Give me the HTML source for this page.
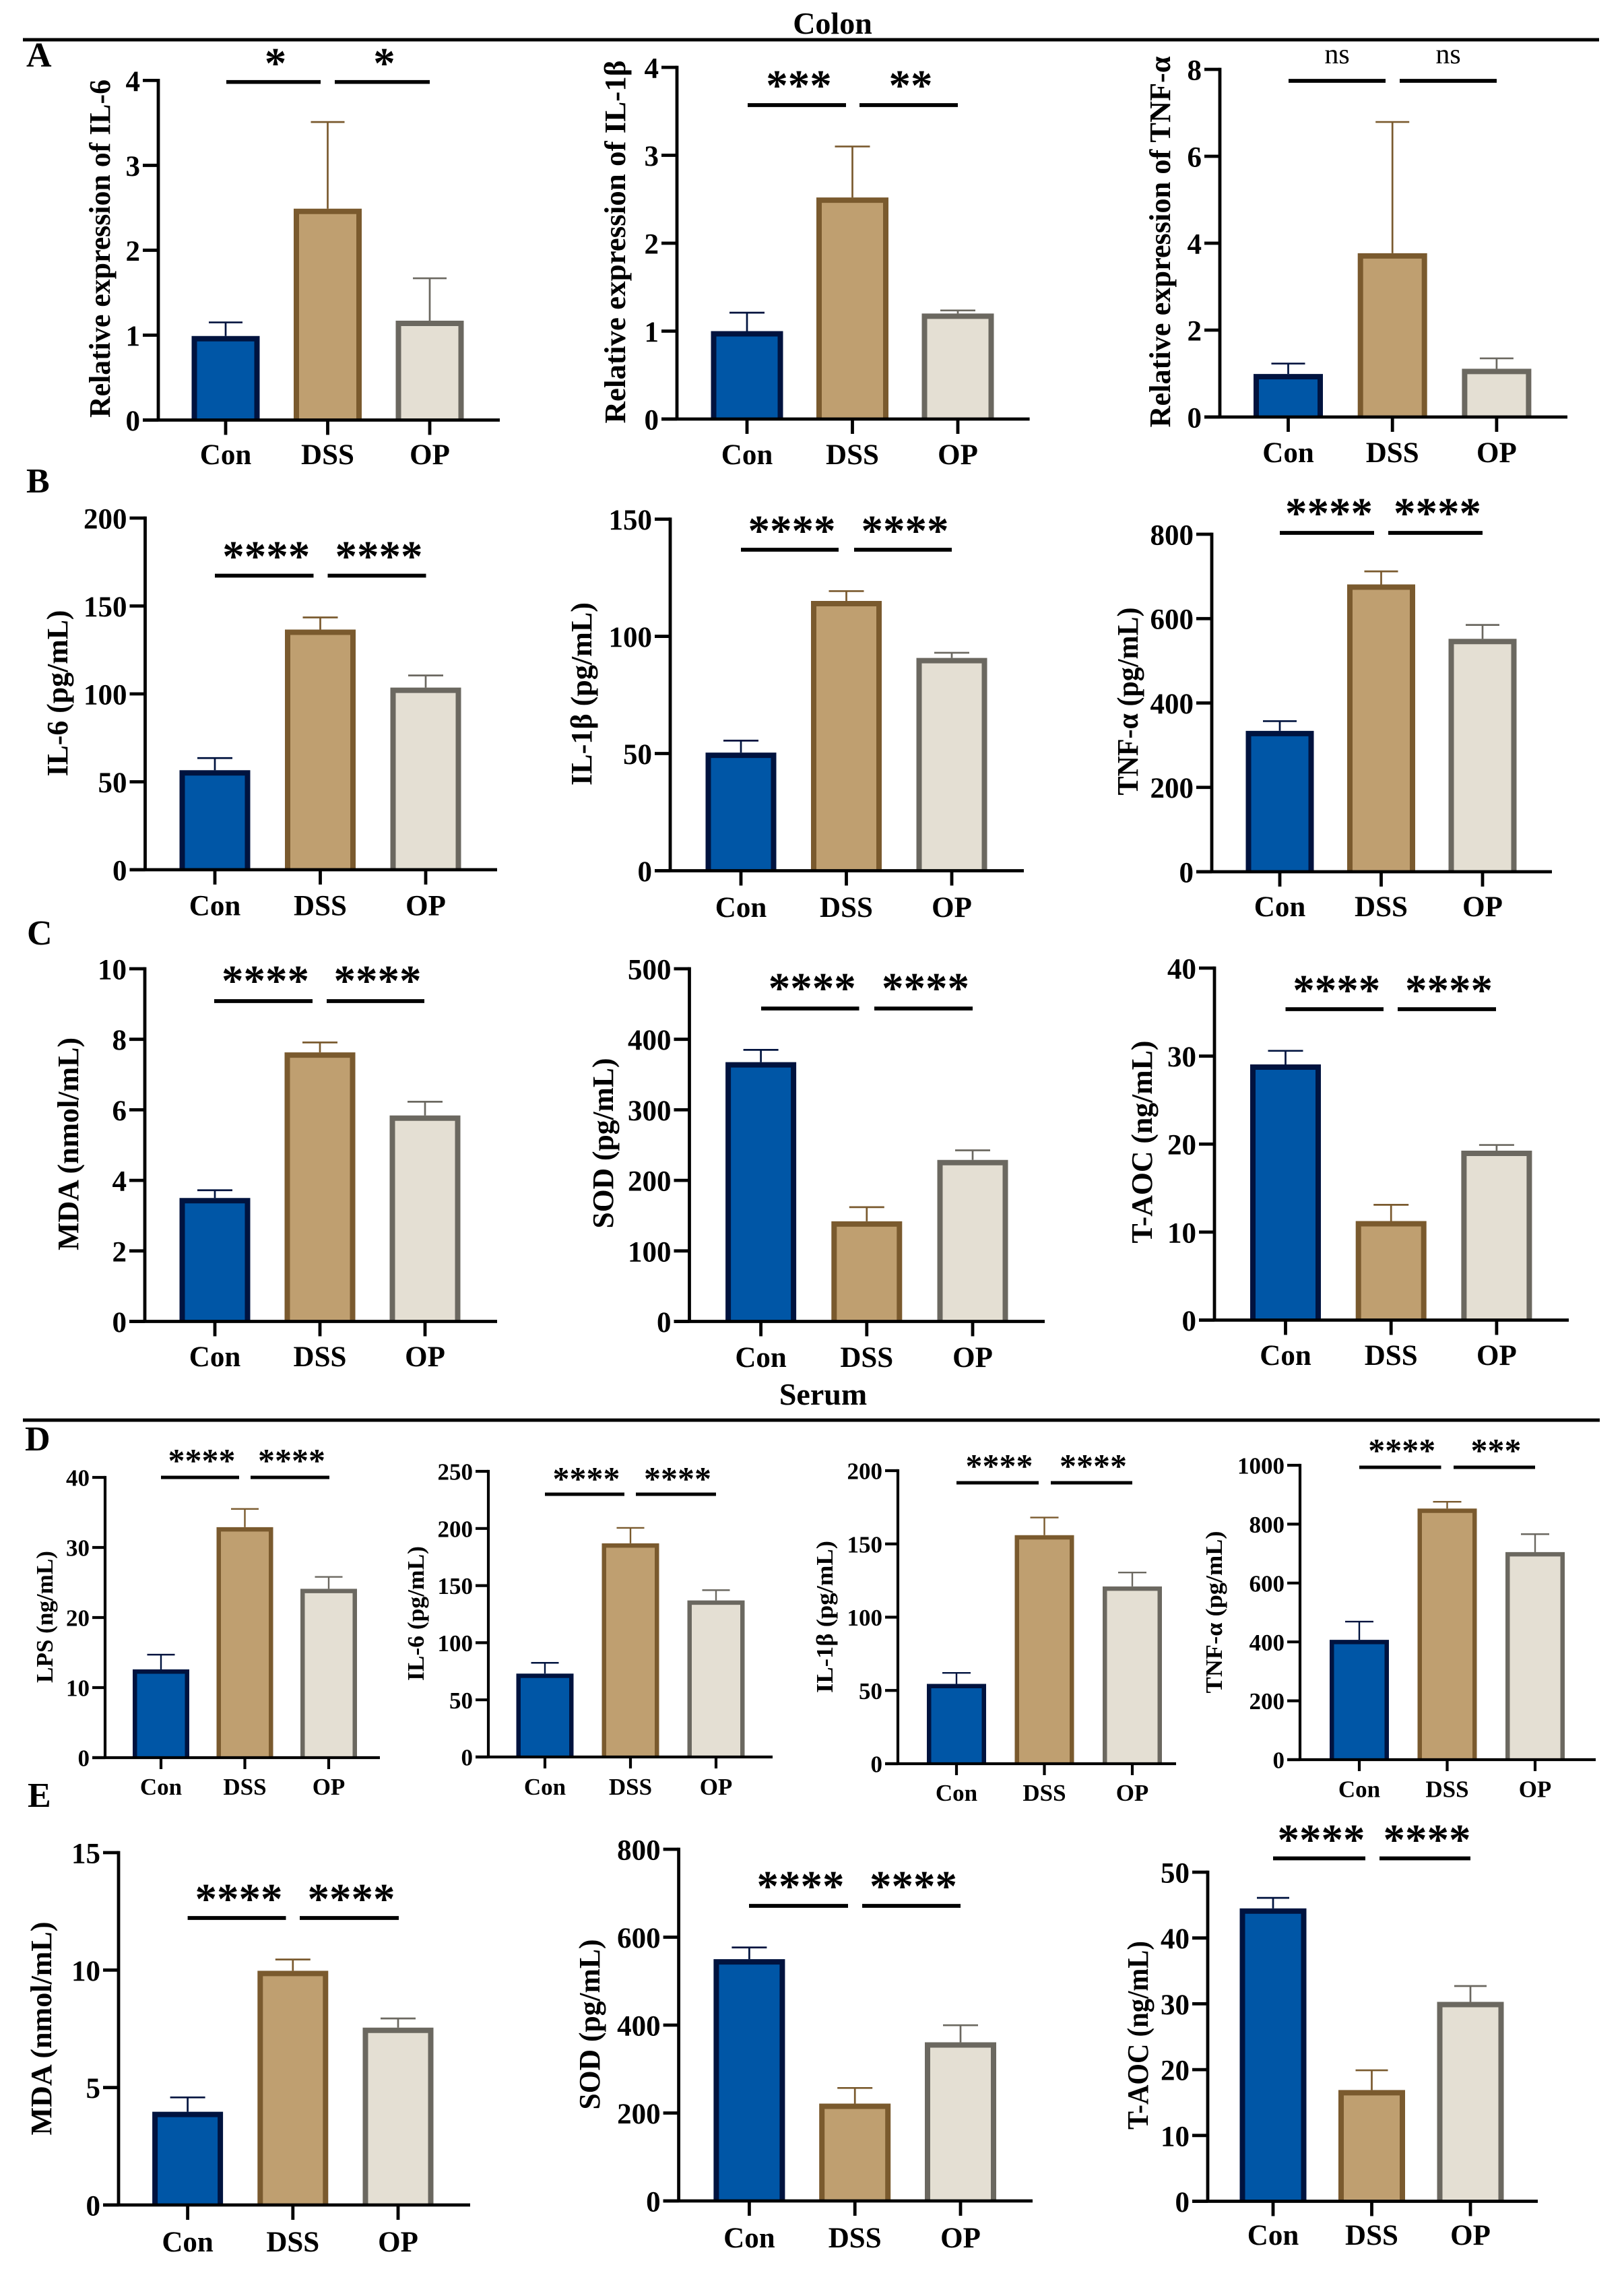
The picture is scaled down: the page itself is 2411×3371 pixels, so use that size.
<!DOCTYPE html>
<html lang="en">
<head>
<meta charset="utf-8">
<title>Colon and serum cytokine bar charts</title>
<style>
html,body{margin:0;padding:0;background:#fff}
svg{display:block}
text{font-family:"Liberation Serif","DejaVu Serif",serif;font-weight:700;fill:#000}
</style>
</head>
<body>
<svg id="figure" xmlns="http://www.w3.org/2000/svg" width="2411" height="3371" viewBox="0 0 2411 3371">
  <rect width="2411" height="3371" fill="#fff"/>
  <line x1="34" x2="2374" y1="59" y2="59" stroke="#000" stroke-width="5"/>
  <line x1="34" x2="2375" y1="2108" y2="2108" stroke="#000" stroke-width="5"/>
  <text x="1236" y="50" font-size="46" text-anchor="middle">Colon</text>
  <text x="1222" y="2085" font-size="46" text-anchor="middle">Serum</text>
  <text x="39" y="99" font-size="52">A</text>
  <text x="39" y="731" font-size="52">B</text>
  <text x="40" y="1402" font-size="52">C</text>
  <text x="37" y="2153" font-size="52">D</text>
  <text x="41" y="2682" font-size="52">E</text>
</svg>
<script>
const categories = ['Con', 'DSS', 'OP'];

const aIl6Means = [0.99, 2.49, 1.17];
const aIl6Errors = [0.16, 1.02, 0.5];
const aIl6Ticks = [0, 1, 2, 3, 4];
const aIl6Sig = ['*', '*'];

const aIl1bMeans = [1, 2.52, 1.2];
const aIl1bErrors = [0.21, 0.58, 0.035];
const aIl1bTicks = [0, 1, 2, 3, 4];
const aIl1bSig = ['***', '**'];

const aTnfMeans = [0.99, 3.77, 1.11];
const aTnfErrors = [0.24, 3.02, 0.24];
const aTnfTicks = [0, 2, 4, 6, 8];
const aTnfSig = ['ns', 'ns'];

const bIl6Means = [56.6, 136.6, 103.6];
const bIl6Errors = [6.9, 6.9, 6.9];
const bIl6Ticks = [0, 50, 100, 150, 200];
const bIl6Sig = ['****', '****'];

const bIl1bMeans = [50.4, 115.1, 90.8];
const bIl1bErrors = [5.1, 4.2, 2.2];
const bIl1bTicks = [0, 50, 100, 150];
const bIl1bSig = ['****', '****'];

const bTnfMeans = [334, 681, 552];
const bTnfErrors = [23, 31, 33];
const bTnfTicks = [0, 200, 400, 600, 800];
const bTnfSig = ['****', '****'];

const cMdaMeans = [3.5, 7.63, 5.84];
const cMdaErrors = [0.22, 0.28, 0.39];
const cMdaTicks = [0, 2, 4, 6, 8, 10];
const cMdaSig = ['****', '****'];

const cSodMeans = [367.6, 142, 229];
const cSodErrors = [17.4, 20, 13.6];
const cSodTicks = [0, 100, 200, 300, 400, 500];
const cSodSig = ['****', '****'];

const cAocMeans = [29.05, 11.25, 19.25];
const cAocErrors = [1.55, 1.85, 0.65];
const cAocTicks = [0, 10, 20, 30, 40];
const cAocSig = ['****', '****'];

const dLpsMeans = [12.6, 32.9, 24.1];
const dLpsErrors = [2.1, 2.6, 1.7];
const dLpsTicks = [0, 10, 20, 30, 40];
const dLpsSig = ['****', '****'];

const dIl6Means = [73, 187, 137];
const dIl6Errors = [9.4, 13.5, 9];
const dIl6Ticks = [0, 50, 100, 150, 200, 250];
const dIl6Sig = ['****', '****'];

const dIl1bMeans = [54.5, 156, 121];
const dIl1bErrors = [7.5, 12, 9.5];
const dIl1bTicks = [0, 50, 100, 150, 200];
const dIl1bSig = ['****', '****'];

const dTnfMeans = [407, 853, 705];
const dTnfErrors = [62, 23, 61];
const dTnfTicks = [0, 200, 400, 600, 800, 1000];
const dTnfSig = ['****', '***'];

const eMdaMeans = [3.97, 9.97, 7.55];
const eMdaErrors = [0.61, 0.48, 0.39];
const eMdaTicks = [0, 5, 10, 15];
const eMdaSig = ['****', '****'];

const eSodMeans = [550, 221.5, 361];
const eSodErrors = [26.6, 35.5, 38.7];
const eSodTicks = [0, 200, 400, 600, 800];
const eSodSig = ['****', '****'];

const eAocMeans = [44.5, 16.9, 30.3];
const eAocErrors = [1.6, 3, 2.4];
const eAocTicks = [0, 10, 20, 30, 40, 50];
const eAocSig = ['****', '****'];

const fills = ['#0056a6', '#bf9f70', '#e4dfd3'];
const strokes = ['#00133f', '#7a5a2e', '#6b6860'];

const panels = [
  {id:'colon-il6', means:aIl6Means, errors:aIl6Errors, ticks:aIl6Ticks, sig:aIl6Sig, title:'Relative expression of IL-6', axis:235, top:119.4, base:623.5, right:742, first:335, step:151.5, barW:101, capW:50, sigY:121.7, starY:85, labelY:689, tx:163, ty:369, tl:502, b1:[336,476], b2:[497,638]},
  {id:'colon-il1b', means:aIl1bMeans, errors:aIl1bErrors, ticks:aIl1bTicks, sig:aIl1bSig, title:'Relative expression of IL-1β', axis:1005, top:100, base:622, right:1528.6, first:1109, step:156.5, barW:107, capW:52, sigY:156, starY:118, labelY:689, tx:928, ty:359, tl:539, b1:[1110,1256], b2:[1276,1422]},
  {id:'colon-tnf', means:aTnfMeans, errors:aTnfErrors, ticks:aTnfTicks, sig:aTnfSig, title:'Relative expression of TNF-α', axis:1811, top:103, base:619, right:2327, first:1912.5, step:154.7, barW:103, capW:50, sigY:120, starY:85, labelY:686, tx:1737, ty:359, tl:551, b1:[1913,2057], b2:[2078,2222]},

  {id:'colon-b-il6', means:bIl6Means, errors:bIl6Errors, ticks:bIl6Ticks, sig:bIl6Sig, title:'IL-6 (pg/mL)', axis:215.5, top:769, base:1291, right:738, first:319, step:156.5, barW:105, capW:52, sigY:854.5, starY:817, labelY:1358.6, tx:100, ty:1029, tl:247, b1:[319,465.5], b2:[486.5,632.5]},
  {id:'colon-b-il1b', means:bIl1bMeans, errors:bIl1bErrors, ticks:bIl1bTicks, sig:bIl1bSig, title:'IL-1β (pg/mL)', axis:995, top:770.6, base:1292.5, right:1520, first:1100, step:156.5, barW:105, capW:52, sigY:816, starY:779, labelY:1361, tx:878, ty:1030, tl:272, b1:[1100,1245], b2:[1268,1413]},
  {id:'colon-b-tnf', means:bTnfMeans, errors:bTnfErrors, ticks:bTnfTicks, sig:bTnfSig, title:'TNF-α (pg/mL)', axis:1799, top:793, base:1294, right:2304, first:1900, step:150.5, barW:101, capW:50, sigY:791, starY:753, labelY:1360, tx:1689, ty:1041, tl:279, b1:[1900,2040], b2:[2061,2201]},

  {id:'colon-c-mda', means:cMdaMeans, errors:cMdaErrors, ticks:cMdaTicks, sig:cMdaSig, title:'MDA (nmol/mL)', axis:215, top:1438, base:1961.5, right:738, first:319, step:156, barW:105, capW:52, sigY:1486, starY:1447, labelY:2028, tx:116, ty:1698, tl:316, b1:[318,464], b2:[485,630]},
  {id:'colon-c-sod', means:cSodMeans, errors:cSodErrors, ticks:cSodTicks, sig:cSodSig, title:'SOD (pg/mL)', axis:1023.5, top:1438, base:1961.5, right:1551, first:1129.6, step:157.2, barW:105, capW:52, sigY:1497, starY:1458, labelY:2029, tx:910, ty:1697, tl:253, b1:[1130,1275.5], b2:[1298,1444]},
  {id:'colon-c-aoc', means:cAocMeans, errors:cAocErrors, ticks:cAocTicks, sig:cAocSig, title:'T-AOC (ng/mL)', axis:1803, top:1437, base:1959.5, right:2329, first:1908.5, step:156.7, barW:105, capW:52, sigY:1498, starY:1461, labelY:2026, tx:1710, ty:1695, tl:301, b1:[1908.5,2054], b2:[2075,2221]},

  {id:'serum-lps', small:true, means:dLpsMeans, errors:dLpsErrors, ticks:dLpsTicks, sig:dLpsSig, title:'LPS (ng/mL)', axis:156, top:2193, base:2609, right:564, first:239, step:124.5, barW:84, capW:41, sigY:2193, starY:2161, labelY:2664, tx:78, ty:2400, tl:196, b1:[239,355], b2:[372,489]},
  {id:'serum-il6', small:true, means:dIl6Means, errors:dIl6Errors, ticks:dIl6Ticks, sig:dIl6Sig, title:'IL-6 (pg/mL)', axis:725, top:2184, base:2608, right:1147, first:809, step:127, barW:85, capW:41, sigY:2218, starY:2188, labelY:2664, tx:629, ty:2395, tl:200, b1:[809,927], b2:[944,1063]},
  {id:'serum-il1b', small:true, means:dIl1bMeans, errors:dIl1bErrors, ticks:dIl1bTicks, sig:dIl1bSig, title:'IL-1β (pg/mL)', axis:1333, top:2183, base:2618, right:1746, first:1420, step:130.5, barW:88, capW:42, sigY:2201, starY:2169, labelY:2673, tx:1236, ty:2400, tl:226, b1:[1420,1542], b2:[1560,1681]},
  {id:'serum-tnf', small:true, means:dTnfMeans, errors:dTnfErrors, ticks:dTnfTicks, sig:dTnfSig, title:'TNF-α (pg/mL)', axis:1930, top:2175, base:2612, right:2369, first:2018, step:130.5, barW:88, capW:42, sigY:2178, starY:2146, labelY:2667.5, tx:1814, ty:2393, tl:241, b1:[2018,2139.5], b2:[2158,2279]},

  {id:'serum-mda', means:eMdaMeans, errors:eMdaErrors, ticks:eMdaTicks, sig:eMdaSig, title:'MDA (nmol/mL)', axis:176, top:2750, base:3273, right:698, first:278.6, step:156.2, barW:105, capW:52, sigY:2847, starY:2810, labelY:3342, tx:76, ty:3011, tl:317, b1:[278.6,424.5], b2:[445,592]},
  {id:'serum-sod', means:eSodMeans, errors:eSodErrors, ticks:eSodTicks, sig:eSodSig, title:'SOD (pg/mL)', axis:1007.6, top:2745, base:3267, right:1533, first:1112.4, step:156.8, barW:106, capW:52, sigY:2829, starY:2791, labelY:3336, tx:890, ty:3005, tl:253, b1:[1112,1259], b2:[1280,1426]},
  {id:'serum-aoc', means:eAocMeans, errors:eAocErrors, ticks:eAocTicks, sig:eAocSig, title:'T-AOC (ng/mL)', axis:1793, top:2779, base:3267.5, right:2283, first:1890, step:146.5, barW:99, capW:48, sigY:2758.5, starY:2722, labelY:3332, tx:1704, ty:3021, tl:280, b1:[1890,2027], b2:[2048,2183]}
];

const SVG_NS = 'http://www.w3.org/2000/svg';
const figure = document.getElementById('figure');

function node(parent, tag, attrs, content) {
  const el = document.createElementNS(SVG_NS, tag);
  for (const key in attrs) el.setAttribute(key, attrs[key]);
  if (content !== undefined) el.textContent = content;
  parent.appendChild(el);
  return el;
}

panels.forEach(function (p) {
  const maxTick = p.ticks[p.ticks.length - 1];
  const yScale = function (v) { return p.base - (v / maxTick) * (p.base - p.top); };
  const xScale = function (i) { return p.first + i * p.step; };

  const fontSize = p.small ? 35 : 43;
  const titleSize = p.small ? 35 : 44;
  const tickLen = p.small ? 19 : 23;
  const tickDown = p.small ? 17 : 22;
  const axisW = p.small ? 4.2 : 4.8;
  const barStroke = p.small ? 6.5 : 8;
  const errW = p.small ? 2.4 : 2.7;
  const sigW = p.small ? 5 : 5.7;
  const starSize = p.small ? 50 : 65;
  const starShift = p.small ? 2.5 : 3;

  const group = node(figure, 'g', {});
  
  

  const yTitle = node(group, 'text', {
    transform: 'translate(' + p.tx + ',' + p.ty + ') rotate(-90)',
    'text-anchor': 'middle',
    'font-size': titleSize,
    textLength: p.tl,
    lengthAdjust: 'spacingAndGlyphs'
  }, p.title);
  
  

  p.means.forEach(function (mean, i) {
    const cx = xScale(i);
    const yMean = yScale(mean);
    const yErr = yScale(mean + p.errors[i]);
    const halfW = (p.barW - barStroke) / 2;

    const errLine = node(group, 'line', {x1: cx, x2: cx, y1: yMean, y2: yErr, stroke: strokes[i], 'stroke-width': errW});
    
    

    const errCap = node(group, 'line', {x1: cx - p.capW / 2, x2: cx + p.capW / 2, y1: yErr, y2: yErr, stroke: strokes[i], 'stroke-width': errW});
    
    

    const barTop = yMean + barStroke / 2;
    const bar = node(group, 'path', {
      d: 'M' + (cx - halfW) + ' ' + p.base + 'V' + barTop + 'H' + (cx + halfW) + 'V' + p.base,
      fill: fills[i],
      stroke: strokes[i],
      'stroke-width': barStroke,
      'stroke-linejoin': 'miter'
    });
    
    

    const xTick = node(group, 'line', {x1: cx, x2: cx, y1: p.base, y2: p.base + tickDown, stroke: '#000', 'stroke-width': axisW});
    
    

    const xLabel = node(group, 'text', {x: cx, y: p.labelY, 'text-anchor': 'middle', 'font-size': fontSize}, categories[i]);
    
    
  });

  const yAxis = node(group, 'line', {x1: p.axis, x2: p.axis, y1: p.top - axisW / 2, y2: p.base, stroke: '#000', 'stroke-width': axisW});
  
  

  const xAxis = node(group, 'line', {x1: p.axis - tickLen, x2: p.right, y1: p.base, y2: p.base, stroke: '#000', 'stroke-width': axisW});
  
  

  p.ticks.forEach(function (tick) {
    const yPos = yScale(tick);

    const yTick = node(group, 'line', {x1: p.axis - tickLen, x2: p.axis, y1: yPos, y2: yPos, stroke: '#000', 'stroke-width': axisW});
    
    

    const yLabel = node(group, 'text', {x: p.axis - tickLen - 4, y: yPos + fontSize * 0.36, 'text-anchor': 'end', 'font-size': fontSize}, String(tick));
    
    
  });

  [p.b1, p.b2].forEach(function (span, k) {
    const bracket = node(group, 'line', {x1: span[0], x2: span[1], y1: p.sigY, y2: p.sigY, stroke: '#000', 'stroke-width': sigW});
    
    

    const mid = (span[0] + span[1]) / 2;
    const label = p.sig[k];
    const isNs = label === 'ns';
    const sigText = node(group, 'text', {
      x: isNs ? mid : mid + starShift,
      y: isNs ? p.starY + 9 : p.starY + starSize * 0.47,
      'text-anchor': 'middle',
      'font-size': isNs ? 42 : starSize,
      style: isNs ? 'font-weight:400' : ''
    }, label);
    
    
  });
});
</script>
</body>
</html>
